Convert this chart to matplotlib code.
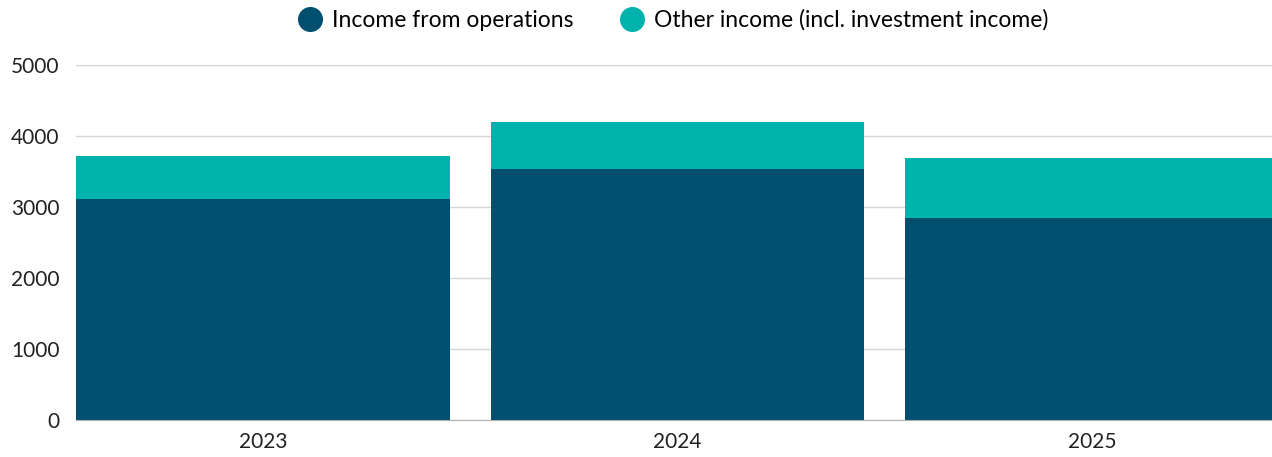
import numpy as np
import matplotlib.pyplot as plt
from matplotlib.lines import Line2D

years = ['2023', '2024', '2025']
operations = [3117, 3540, 2849]
other = [606, 663, 846]

plt.rcParams['font.family'] = ['Lato', 'DejaVu Sans']

fig = plt.figure(figsize=(12.72, 4.57), dpi=100)
ax = fig.add_axes([0.0597, 0.081, 0.9403, 0.776])

x = np.arange(len(years))
ax.bar(x, operations, width=0.902, color='#004F6F', zorder=2)
ax.bar(x, other, width=0.902, bottom=operations, color='#00B2AC', zorder=2)

ax.set_xlim(-0.451, 2.434)
ax.set_ylim(0, 5000)
ax.set_yticks(range(0, 5001, 1000))
ax.set_xticks(x)
ax.set_xticklabels(years)
ax.grid(axis='y', color='#d6d6d6', linewidth=1, zorder=0)
for s in ['top', 'right', 'left']:
    ax.spines[s].set_visible(False)
ax.spines['bottom'].set_color('#b0b0b0')
ax.tick_params(axis='both', length=0, labelsize=15, colors='#222222')
ax.tick_params(axis='y', pad=12)
ax.tick_params(axis='x', pad=9)

handles = [Line2D([], [], marker='o', linestyle='', markersize=17, color='#004F6F'),
           Line2D([], [], marker='o', linestyle='', markersize=17, color='#00B2AC')]
fig.legend(handles, ['Income from operations', 'Other income (incl. investment income)'],
           loc='center', bbox_to_anchor=(0.528, 0.956), ncol=2, frameon=False,
           fontsize=16.5, handletextpad=0.3, columnspacing=1.9, handlelength=1.3)

fig.savefig('out.png', dpi=100)
